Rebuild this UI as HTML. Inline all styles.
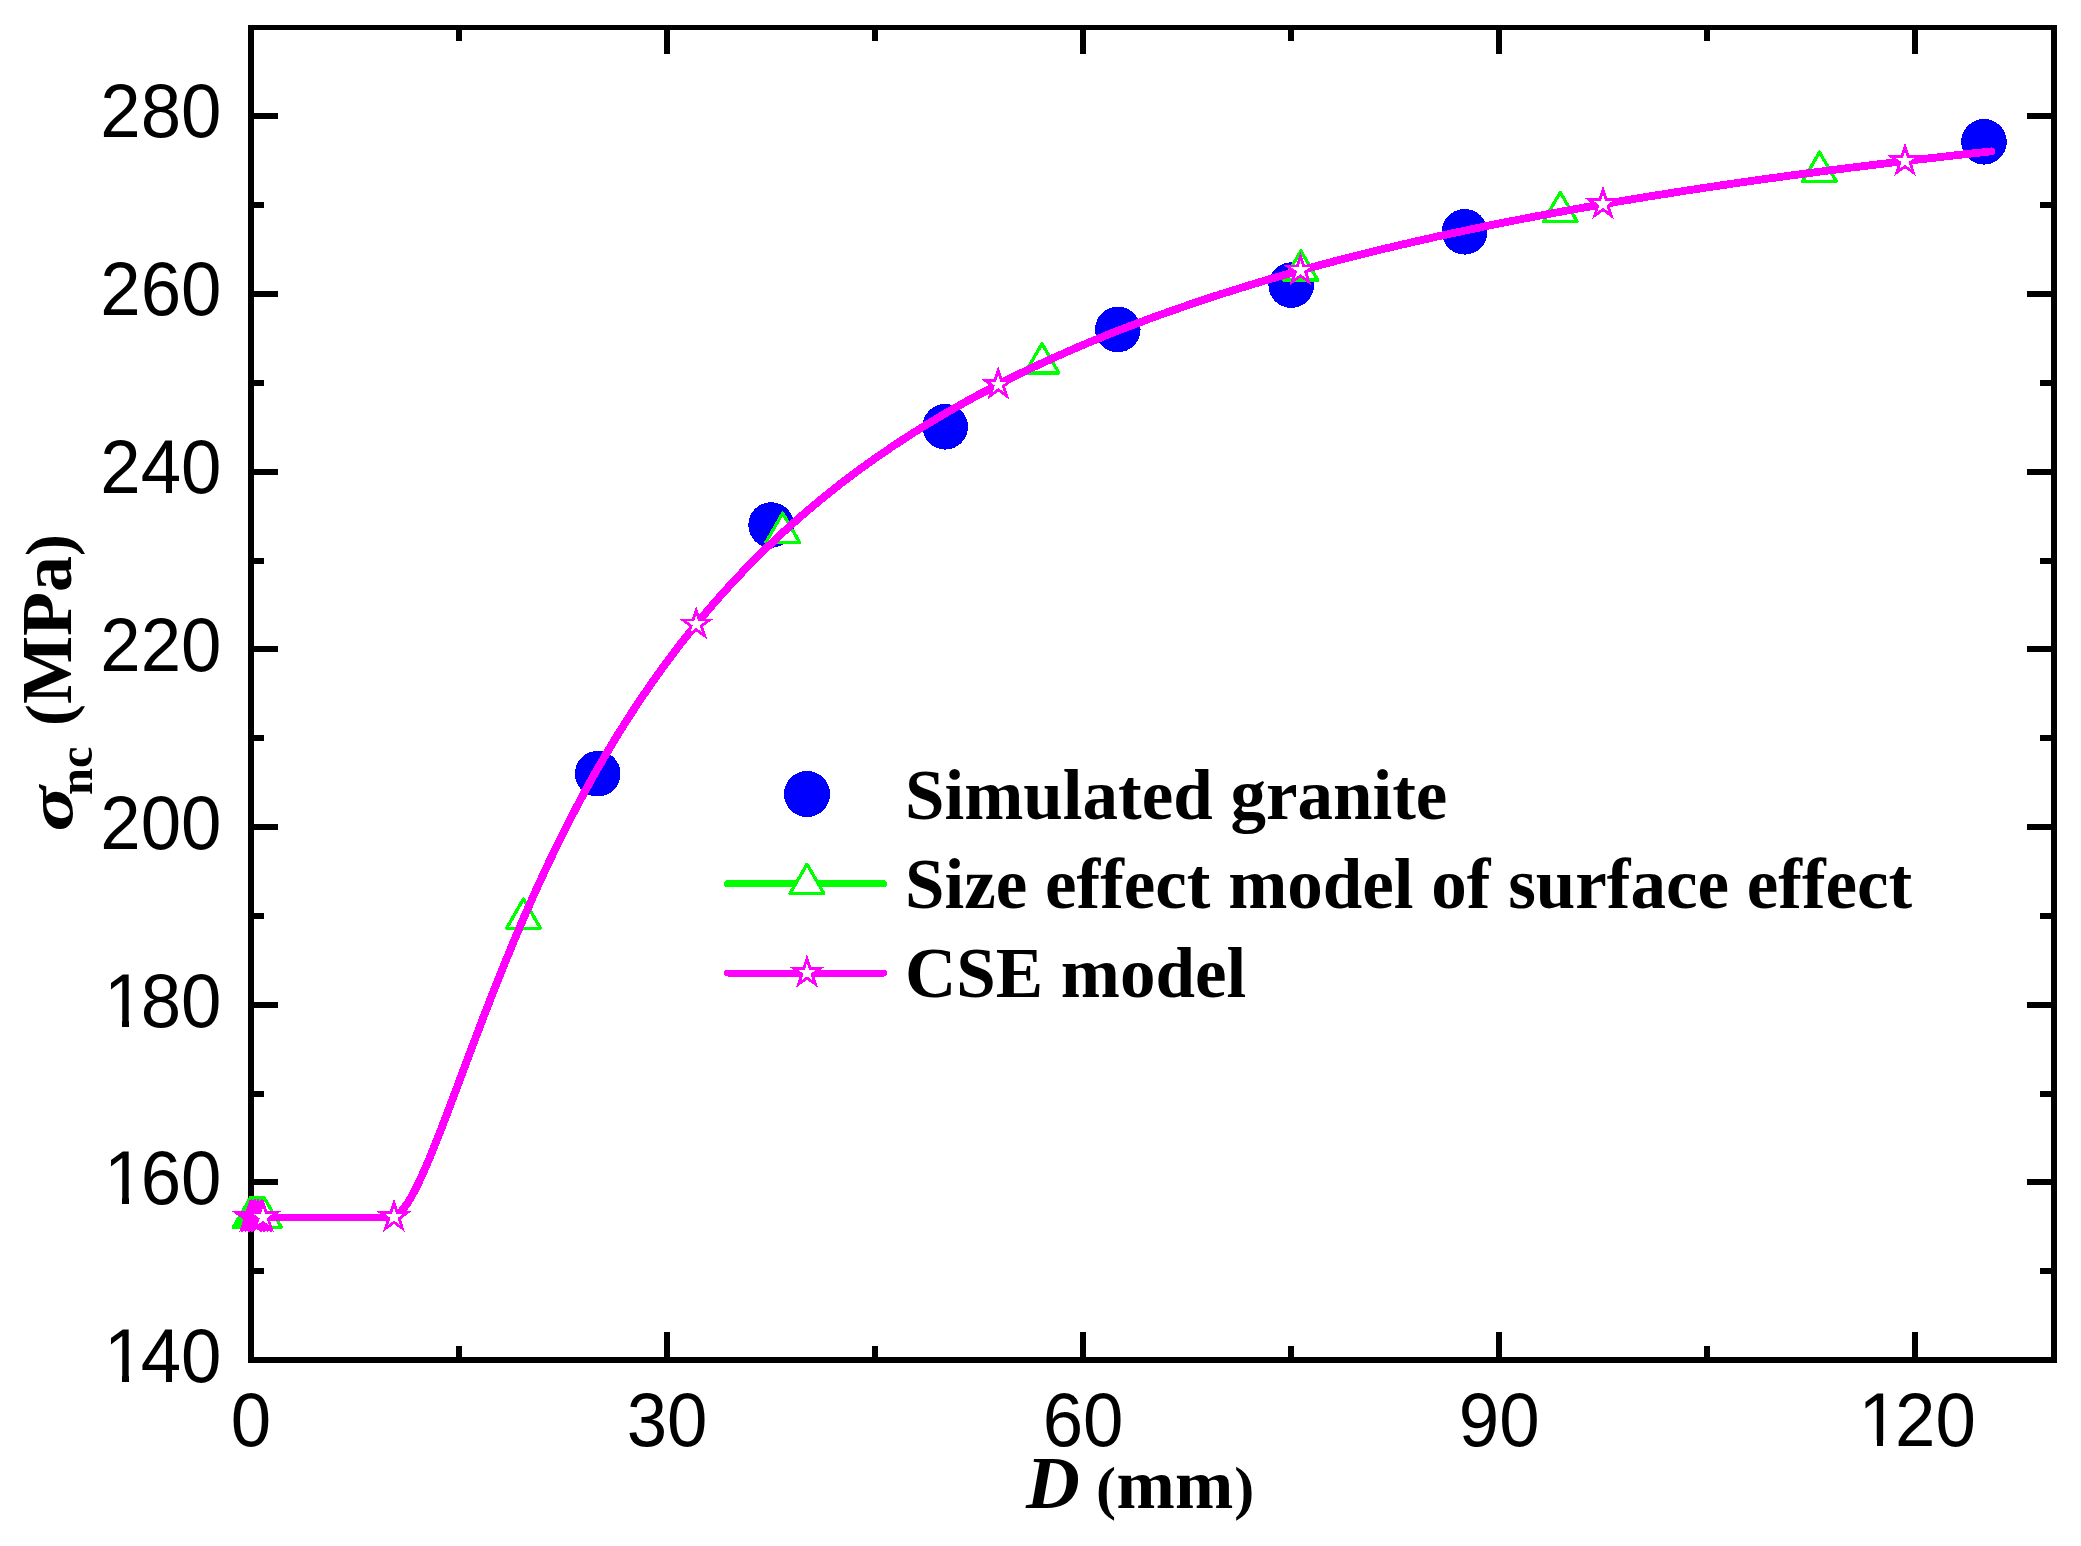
<!DOCTYPE html>
<html lang="en"><head><meta charset="utf-8"><title>Size effect chart</title>
<style>html,body{margin:0;padding:0;background:#fff}svg{display:block}.tk{font-family:"Liberation Sans",Arial,sans-serif;font-size:72.6px;fill:#000}.ti{font-family:"Liberation Serif","Times New Roman",serif;font-weight:bold;font-size:71px;fill:#000}</style></head><body>
<svg width="2081" height="1546" viewBox="0 0 2081 1546">
<rect x="0" y="0" width="2081" height="1546" fill="#fff"/>
<g fill="#000" shape-rendering="crispEdges">
<rect x="248" y="25" width="6" height="1338"/>
<rect x="2051" y="25" width="6" height="1338"/>
<rect x="248" y="25" width="1809" height="5"/>
<rect x="248" y="1357" width="1809" height="6"/>
<rect x="254" y="1268.2" width="10" height="6"/>
<rect x="2040" y="1268.2" width="11" height="6"/>
<rect x="254" y="1179.3" width="24" height="6"/>
<rect x="2027" y="1179.3" width="24" height="6"/>
<rect x="254" y="1090.5" width="10" height="6"/>
<rect x="2040" y="1090.5" width="11" height="6"/>
<rect x="254" y="1001.7" width="24" height="6"/>
<rect x="2027" y="1001.7" width="24" height="6"/>
<rect x="254" y="912.8" width="10" height="6"/>
<rect x="2040" y="912.8" width="11" height="6"/>
<rect x="254" y="824.0" width="24" height="6"/>
<rect x="2027" y="824.0" width="24" height="6"/>
<rect x="254" y="735.2" width="10" height="6"/>
<rect x="2040" y="735.2" width="11" height="6"/>
<rect x="254" y="646.3" width="24" height="6"/>
<rect x="2027" y="646.3" width="24" height="6"/>
<rect x="254" y="557.5" width="10" height="6"/>
<rect x="2040" y="557.5" width="11" height="6"/>
<rect x="254" y="468.7" width="24" height="6"/>
<rect x="2027" y="468.7" width="24" height="6"/>
<rect x="254" y="379.8" width="10" height="6"/>
<rect x="2040" y="379.8" width="11" height="6"/>
<rect x="254" y="291.0" width="24" height="6"/>
<rect x="2027" y="291.0" width="24" height="6"/>
<rect x="254" y="202.2" width="10" height="6"/>
<rect x="2040" y="202.2" width="11" height="6"/>
<rect x="254" y="113.3" width="24" height="6"/>
<rect x="2027" y="113.3" width="24" height="6"/>
<rect x="456.0" y="30" width="6" height="10.5"/>
<rect x="456.0" y="1346" width="6" height="11"/>
<rect x="664.1" y="30" width="6" height="24"/>
<rect x="664.1" y="1332" width="6" height="25"/>
<rect x="872.1" y="30" width="6" height="10.5"/>
<rect x="872.1" y="1346" width="6" height="11"/>
<rect x="1080.2" y="30" width="6" height="24"/>
<rect x="1080.2" y="1332" width="6" height="25"/>
<rect x="1288.2" y="30" width="6" height="10.5"/>
<rect x="1288.2" y="1346" width="6" height="11"/>
<rect x="1496.2" y="30" width="6" height="24"/>
<rect x="1496.2" y="1332" width="6" height="25"/>
<rect x="1704.3" y="30" width="6" height="10.5"/>
<rect x="1704.3" y="1346" width="6" height="11"/>
<rect x="1912.3" y="30" width="6" height="24"/>
<rect x="1912.3" y="1332" width="6" height="25"/>
</g>
<text class="tk" transform="translate(100.27,1382.1) scale(1,1.04)"><tspan dx="3.8">1</tspan><tspan dx="-3.8">40</tspan></text>
<text class="tk" transform="translate(100.27,1204.3) scale(1,1.04)"><tspan dx="3.8">1</tspan><tspan dx="-3.8">60</tspan></text>
<text class="tk" transform="translate(100.27,1026.5) scale(1,1.04)"><tspan dx="3.8">1</tspan><tspan dx="-3.8">80</tspan></text>
<text class="tk" transform="translate(221.4,848.7) scale(1,1.04)" text-anchor="end">200</text>
<text class="tk" transform="translate(221.4,670.9) scale(1,1.04)" text-anchor="end">220</text>
<text class="tk" transform="translate(221.4,493.1) scale(1,1.04)" text-anchor="end">240</text>
<text class="tk" transform="translate(221.4,315.2) scale(1,1.04)" text-anchor="end">260</text>
<text class="tk" transform="translate(221.4,137.4) scale(1,1.04)" text-anchor="end">280</text>
<text class="tk" transform="translate(271.2,1446.1) scale(1,1.04)" text-anchor="end">0</text>
<text class="tk" transform="translate(707.5,1446.1) scale(1,1.04)" text-anchor="end">30</text>
<text class="tk" transform="translate(1123.5,1446.1) scale(1,1.04)" text-anchor="end">60</text>
<text class="tk" transform="translate(1539.6,1446.1) scale(1,1.04)" text-anchor="end">90</text>
<text class="tk" transform="translate(1854.74,1446.1) scale(1,1.04)"><tspan dx="3.8">1</tspan><tspan dx="-3.8">20</tspan></text>
<g fill="#fff" shape-rendering="crispEdges"><rect x="108.40" y="1375.56" width="13.73" height="7.54"/><rect x="128.94" y="1375.56" width="12.96" height="7.54"/><rect x="108.40" y="1197.75" width="13.73" height="7.54"/><rect x="128.94" y="1197.75" width="12.96" height="7.54"/><rect x="108.40" y="1019.94" width="13.73" height="7.54"/><rect x="128.94" y="1019.94" width="12.96" height="7.54"/><rect x="1862.87" y="1439.56" width="13.73" height="7.54"/><rect x="1883.42" y="1439.56" width="12.96" height="7.54"/></g>
<text class="ti" x="1026" y="1507.8" style="font-size:70px"><tspan style="font-size:74.5px;font-style:italic">D</tspan> <tspan style="font-size:60px" dx="-1.2">(</tspan><tspan dx="0.5">mm</tspan><tspan style="font-size:60px" dx="1">)</tspan></text>
<text class="ti" transform="translate(72,831.5) rotate(-90) scale(1.19,0.88)" font-style="italic">σ</text>
<text class="ti" transform="translate(92.3,795) rotate(-90)" style="font-size:48.5px">nc</text>
<text class="ti" transform="translate(71,726) rotate(-90)" style="font-size:72px"><tspan style="font-size:66px">(</tspan>MPa<tspan style="font-size:66px">)</tspan></text>
<g shape-rendering="crispEdges">
<g fill="#0000ff">
<circle cx="597.7" cy="773.7" r="22.8"/>
<circle cx="771.1" cy="525.0" r="22.8"/>
<circle cx="945.2" cy="426.8" r="22.8"/>
<circle cx="1117.8" cy="329.5" r="22.8"/>
<circle cx="1291.2" cy="285.1" r="22.8"/>
<circle cx="1464.6" cy="231.8" r="22.8"/>
<circle cx="1984.0" cy="141.8" r="22.8"/>
</g>
<path d="M251.0,1217.5 L390.8,1217.5" fill="none" stroke="#00ff00" stroke-width="7" stroke-linecap="round"/>
<path d="M390.8,1217.5 L394.2,1216.8 L397.7,1214.7 L401.2,1211.5 L404.6,1207.2 L408.1,1202.2 L411.6,1196.4 L415.0,1189.9 L418.5,1182.9 L422.0,1175.5 L425.4,1167.7 L428.9,1159.6 L432.4,1151.2 L435.8,1142.6 L439.3,1133.8 L442.8,1124.8 L446.3,1115.8 L449.7,1106.6 L453.2,1097.4 L456.7,1088.2 L460.1,1078.9 L463.6,1069.6 L467.1,1060.4 L470.5,1051.2 L474.0,1042.0 L477.5,1032.8 L480.9,1023.7 L484.4,1014.7 L487.9,1005.7 L491.3,996.9 L494.8,988.0 L498.3,979.3 L501.7,970.7 L505.2,962.1 L508.7,953.7 L512.1,945.3 L515.6,937.0 L519.1,928.8 L522.5,920.7 L526.0,912.7 L529.5,904.8 L532.9,897.0 L536.4,889.3 L539.9,881.7 L543.3,874.2 L546.8,866.8 L550.3,859.5 L553.7,852.3 L557.2,845.1 L560.7,838.1 L564.1,831.2 L567.6,824.3 L571.1,817.5 L574.5,810.9 L578.0,804.3 L581.5,797.8 L584.9,791.4 L588.4,785.1 L591.9,778.8 L595.3,772.6 L598.8,766.6 L602.3,760.6 L605.7,754.6 L609.2,748.8 L612.7,743.0 L616.1,737.3 L619.6,731.7 L623.1,726.2 L626.6,720.7 L630.0,715.3 L633.5,710.0 L637.0,704.7 L640.4,699.5 L643.9,694.4 L647.4,689.3 L650.8,684.3 L654.3,679.4 L657.8,674.5 L661.2,669.7 L664.7,664.9 L668.2,660.2 L671.6,655.6 L675.1,651.0 L678.6,646.5 L682.0,642.0 L685.5,637.6 L689.0,633.2 L692.4,628.9 L695.9,624.6 L699.4,620.4 L702.8,616.3 L706.3,612.2 L709.8,608.1 L713.2,604.1 L716.7,600.1 L720.2,596.2 L723.6,592.3 L727.1,588.5 L730.6,584.7 L734.0,581.0 L737.5,577.3 L741.0,573.6 L744.4,570.0 L747.9,566.4 L751.4,562.9 L754.8,559.4 L758.3,555.9 L761.8,552.5 L765.2,549.1 L768.7,545.8 L772.2,542.5 L775.6,539.2 L779.1,536.0 L782.6,532.8 L786.0,529.6 L789.5,526.5 L793.0,523.4 L796.4,520.3 L799.9,517.2 L803.4,514.2 L806.9,511.3 L810.3,508.3 L813.8,505.4 L817.3,502.5 L820.7,499.7 L824.2,496.8 L827.7,494.0 L831.1,491.3 L834.6,488.5 L838.1,485.8 L841.5,483.1 L845.0,480.5 L848.5,477.8 L851.9,475.2 L855.4,472.6 L858.9,470.1 L862.3,467.5 L865.8,465.0 L869.3,462.5 L872.7,460.1 L876.2,457.6 L879.7,455.2 L883.1,452.8 L886.6,450.5 L890.1,448.1 L893.5,445.8 L897.0,443.5 L900.5,441.2 L903.9,438.9 L907.4,436.7 L910.9,434.5 L914.3,432.3 L917.8,430.1 L921.3,427.9 L924.7,425.8 L928.2,423.7 L931.7,421.6 L935.1,419.5 L938.6,417.4 L942.1,415.4 L945.5,413.3 L949.0,411.3 L952.5,409.3 L955.9,407.3 L959.4,405.4 L962.9,403.4 L966.3,401.5 L969.8,399.6 L973.3,397.7 L976.7,395.8 L980.2,393.9 L983.7,392.1 L987.2,390.3 L990.6,388.4 L994.1,386.6 L997.6,384.9 L1001.0,383.1 L1004.5,381.3 L1008.0,379.6 L1011.4,377.8 L1014.9,376.1 L1018.4,374.4 L1021.8,372.7 L1025.3,371.1 L1028.8,369.4 L1032.2,367.7 L1035.7,366.1 L1039.2,364.5 L1042.6,362.9 L1046.1,361.3 L1049.6,359.7 L1053.0,358.1 L1056.5,356.5 L1060.0,355.0 L1063.4,353.5 L1066.9,351.9 L1070.4,350.4 L1073.8,348.9 L1077.3,347.4 L1080.8,345.9 L1084.2,344.5 L1087.7,343.0 L1091.2,341.6 L1094.6,340.1 L1098.1,338.7 L1101.6,337.3 L1105.0,335.9 L1108.5,334.5 L1112.0,333.1 L1115.4,331.7 L1118.9,330.3 L1122.4,329.0 L1125.8,327.6 L1129.3,326.3 L1132.8,325.0 L1136.2,323.7 L1139.7,322.4 L1143.2,321.1 L1146.6,319.8 L1150.1,318.5 L1153.6,317.2 L1157.0,316.0 L1160.5,314.7 L1164.0,313.5 L1167.5,312.2 L1170.9,311.0 L1174.4,309.8 L1177.9,308.6 L1181.3,307.4 L1184.8,306.2 L1188.3,305.0 L1191.7,303.8 L1195.2,302.6 L1198.7,301.5 L1202.1,300.3 L1205.6,299.2 L1209.1,298.0 L1212.5,296.9 L1216.0,295.8 L1219.5,294.6 L1222.9,293.5 L1226.4,292.4 L1229.9,291.3 L1233.3,290.2 L1236.8,289.2 L1240.3,288.1 L1243.7,287.0 L1247.2,285.9 L1250.7,284.9 L1254.1,283.8 L1257.6,282.8 L1261.1,281.8 L1264.5,280.7 L1268.0,279.7 L1271.5,278.7 L1274.9,277.7 L1278.4,276.7 L1281.9,275.7 L1285.3,274.7 L1288.8,273.7 L1292.3,272.7 L1295.7,271.8 L1299.2,270.8 L1302.7,269.8 L1306.1,268.9 L1309.6,267.9 L1313.1,267.0 L1316.5,266.0 L1320.0,265.1 L1323.5,264.2 L1326.9,263.3 L1330.4,262.4 L1333.9,261.4 L1337.3,260.5 L1340.8,259.6 L1344.3,258.7 L1347.8,257.9 L1351.2,257.0 L1354.7,256.1 L1358.2,255.2 L1361.6,254.4 L1365.1,253.5 L1368.6,252.6 L1372.0,251.8 L1375.5,250.9 L1379.0,250.1 L1382.4,249.2 L1385.9,248.4 L1389.4,247.6 L1392.8,246.8 L1396.3,245.9 L1399.8,245.1 L1403.2,244.3 L1406.7,243.5 L1410.2,242.7 L1413.6,241.9 L1417.1,241.1 L1420.6,240.3 L1424.0,239.5 L1427.5,238.8 L1431.0,238.0 L1434.4,237.2 L1437.9,236.4 L1441.4,235.7 L1444.8,234.9 L1448.3,234.2 L1451.8,233.4 L1455.2,232.7 L1458.7,231.9 L1462.2,231.2 L1465.6,230.5 L1469.1,229.7 L1472.6,229.0 L1476.0,228.3 L1479.5,227.6 L1483.0,226.8 L1486.4,226.1 L1489.9,225.4 L1493.4,224.7 L1496.8,224.0 L1500.3,223.3 L1503.8,222.6 L1507.2,221.9 L1510.7,221.2 L1514.2,220.6 L1517.6,219.9 L1521.1,219.2 L1524.6,218.5 L1528.1,217.9 L1531.5,217.2 L1535.0,216.5 L1538.5,215.9 L1541.9,215.2 L1545.4,214.6 L1548.9,213.9 L1552.3,213.3 L1555.8,212.6 L1559.3,212.0 L1562.7,211.4 L1566.2,210.7 L1569.7,210.1 L1573.1,209.5 L1576.6,208.9 L1580.1,208.2 L1583.5,207.6 L1587.0,207.0 L1590.5,206.4 L1593.9,205.8 L1597.4,205.2 L1600.9,204.6 L1604.3,204.0 L1607.8,203.4 L1611.3,202.8 L1614.7,202.2 L1618.2,201.6 L1621.7,201.0 L1625.1,200.4 L1628.6,199.9 L1632.1,199.3 L1635.5,198.7 L1639.0,198.1 L1642.5,197.6 L1645.9,197.0 L1649.4,196.4 L1652.9,195.9 L1656.3,195.3 L1659.8,194.8 L1663.3,194.2 L1666.7,193.7 L1670.2,193.1 L1673.7,192.6 L1677.1,192.0 L1680.6,191.5 L1684.1,190.9 L1687.5,190.4 L1691.0,189.9 L1694.5,189.3 L1697.9,188.8 L1701.4,188.3 L1704.9,187.8 L1708.4,187.2 L1711.8,186.7 L1715.3,186.2 L1718.8,185.7 L1722.2,185.2 L1725.7,184.7 L1729.2,184.2 L1732.6,183.7 L1736.1,183.2 L1739.6,182.7 L1743.0,182.2 L1746.5,181.7 L1750.0,181.2 L1753.4,180.7 L1756.9,180.2 L1760.4,179.7 L1763.8,179.2 L1767.3,178.7 L1770.8,178.2 L1774.2,177.8 L1777.7,177.3 L1781.2,176.8 L1784.6,176.3 L1788.1,175.9 L1791.6,175.4 L1795.0,174.9 L1798.5,174.5 L1802.0,174.0 L1805.4,173.5 L1808.9,173.1 L1812.4,172.6 L1815.8,172.2 L1819.3,171.7 L1822.8,171.3 L1826.2,170.8 L1829.7,170.4 L1833.2,169.9 L1836.6,169.5 L1840.1,169.0 L1843.6,168.6 L1847.0,168.2 L1850.5,167.7 L1854.0,167.3 L1857.4,166.9 L1860.9,166.4 L1864.4,166.0 L1867.8,165.6 L1871.3,165.1 L1874.8,164.7 L1878.2,164.3 L1881.7,163.9 L1885.2,163.5 L1888.7,163.0 L1892.1,162.6 L1895.6,162.2 L1899.1,161.8 L1902.5,161.4 L1906.0,161.0 L1909.5,160.6 L1912.9,160.2 L1916.4,159.8 L1919.9,159.4 L1923.3,158.9 L1926.8,158.6 L1930.3,158.2 L1933.7,157.8 L1937.2,157.4 L1940.7,157.0 L1944.1,156.6 L1947.6,156.2 L1951.1,155.8 L1954.5,155.4 L1958.0,155.0 L1961.5,154.6 L1964.9,154.3 L1968.4,153.9 L1971.9,153.5 L1975.3,153.1 L1978.8,152.7 L1982.3,152.4 L1985.7,152.0 L1989.2,151.6 L1991.4,151.4" fill="none" stroke="#00ff00" stroke-width="7.6" stroke-linecap="round" stroke-linejoin="round"/>
<g fill="#fff" stroke="#00ff00" stroke-width="3.3" stroke-linejoin="round">
<path d="M250.2,1198.0 L267.1,1227.2 L233.3,1227.2Z"/>
<path d="M251.6,1198.0 L268.5,1227.2 L234.7,1227.2Z"/>
<path d="M253.0,1198.0 L269.9,1227.2 L236.1,1227.2Z"/>
<path d="M254.4,1198.0 L271.3,1227.2 L237.5,1227.2Z"/>
<path d="M255.8,1198.0 L272.7,1227.2 L239.0,1227.2Z"/>
<path d="M257.2,1198.0 L274.1,1227.2 L240.4,1227.2Z"/>
<path d="M258.7,1198.0 L275.5,1227.2 L241.8,1227.2Z"/>
<path d="M260.1,1198.0 L277.0,1227.2 L243.2,1227.2Z"/>
<path d="M261.5,1198.0 L278.4,1227.2 L244.6,1227.2Z"/>
<path d="M262.9,1198.0 L279.8,1227.2 L246.0,1227.2Z"/>
<path d="M264.3,1198.0 L281.2,1227.2 L247.4,1227.2Z"/>
<path d="M523.5,898.9 L540.4,928.2 L506.6,928.2Z"/>
<path d="M782.7,513.1 L799.6,542.4 L765.9,542.4Z"/>
<path d="M1042.0,343.7 L1058.8,372.9 L1025.1,372.9Z"/>
<path d="M1300.9,250.8 L1317.8,280.1 L1284.0,280.1Z"/>
<path d="M1560.3,192.3 L1577.1,221.6 L1543.4,221.6Z"/>
<path d="M1819.5,152.2 L1836.4,181.4 L1802.6,181.4Z"/>
</g>
<path d="M251.0,1217.5 L390.8,1217.5" fill="none" stroke="#ff00ff" stroke-width="7" stroke-linecap="round"/>
<path d="M390.8,1217.5 L394.2,1216.8 L397.7,1214.7 L401.2,1211.5 L404.6,1207.2 L408.1,1202.2 L411.6,1196.4 L415.0,1189.9 L418.5,1182.9 L422.0,1175.5 L425.4,1167.7 L428.9,1159.6 L432.4,1151.2 L435.8,1142.6 L439.3,1133.8 L442.8,1124.8 L446.3,1115.8 L449.7,1106.6 L453.2,1097.4 L456.7,1088.2 L460.1,1078.9 L463.6,1069.6 L467.1,1060.4 L470.5,1051.2 L474.0,1042.0 L477.5,1032.8 L480.9,1023.7 L484.4,1014.7 L487.9,1005.7 L491.3,996.9 L494.8,988.0 L498.3,979.3 L501.7,970.7 L505.2,962.1 L508.7,953.7 L512.1,945.3 L515.6,937.0 L519.1,928.8 L522.5,920.7 L526.0,912.7 L529.5,904.8 L532.9,897.0 L536.4,889.3 L539.9,881.7 L543.3,874.2 L546.8,866.8 L550.3,859.5 L553.7,852.3 L557.2,845.1 L560.7,838.1 L564.1,831.2 L567.6,824.3 L571.1,817.5 L574.5,810.9 L578.0,804.3 L581.5,797.8 L584.9,791.4 L588.4,785.1 L591.9,778.8 L595.3,772.6 L598.8,766.6 L602.3,760.6 L605.7,754.6 L609.2,748.8 L612.7,743.0 L616.1,737.3 L619.6,731.7 L623.1,726.2 L626.6,720.7 L630.0,715.3 L633.5,710.0 L637.0,704.7 L640.4,699.5 L643.9,694.4 L647.4,689.3 L650.8,684.3 L654.3,679.4 L657.8,674.5 L661.2,669.7 L664.7,664.9 L668.2,660.2 L671.6,655.6 L675.1,651.0 L678.6,646.5 L682.0,642.0 L685.5,637.6 L689.0,633.2 L692.4,628.9 L695.9,624.6 L699.4,620.4 L702.8,616.3 L706.3,612.2 L709.8,608.1 L713.2,604.1 L716.7,600.1 L720.2,596.2 L723.6,592.3 L727.1,588.5 L730.6,584.7 L734.0,581.0 L737.5,577.3 L741.0,573.6 L744.4,570.0 L747.9,566.4 L751.4,562.9 L754.8,559.4 L758.3,555.9 L761.8,552.5 L765.2,549.1 L768.7,545.8 L772.2,542.5 L775.6,539.2 L779.1,536.0 L782.6,532.8 L786.0,529.6 L789.5,526.5 L793.0,523.4 L796.4,520.3 L799.9,517.2 L803.4,514.2 L806.9,511.3 L810.3,508.3 L813.8,505.4 L817.3,502.5 L820.7,499.7 L824.2,496.8 L827.7,494.0 L831.1,491.3 L834.6,488.5 L838.1,485.8 L841.5,483.1 L845.0,480.5 L848.5,477.8 L851.9,475.2 L855.4,472.6 L858.9,470.1 L862.3,467.5 L865.8,465.0 L869.3,462.5 L872.7,460.1 L876.2,457.6 L879.7,455.2 L883.1,452.8 L886.6,450.5 L890.1,448.1 L893.5,445.8 L897.0,443.5 L900.5,441.2 L903.9,438.9 L907.4,436.7 L910.9,434.5 L914.3,432.3 L917.8,430.1 L921.3,427.9 L924.7,425.8 L928.2,423.7 L931.7,421.6 L935.1,419.5 L938.6,417.4 L942.1,415.4 L945.5,413.3 L949.0,411.3 L952.5,409.3 L955.9,407.3 L959.4,405.4 L962.9,403.4 L966.3,401.5 L969.8,399.6 L973.3,397.7 L976.7,395.8 L980.2,393.9 L983.7,392.1 L987.2,390.3 L990.6,388.4 L994.1,386.6 L997.6,384.9 L1001.0,383.1 L1004.5,381.3 L1008.0,379.6 L1011.4,377.8 L1014.9,376.1 L1018.4,374.4 L1021.8,372.7 L1025.3,371.1 L1028.8,369.4 L1032.2,367.7 L1035.7,366.1 L1039.2,364.5 L1042.6,362.9 L1046.1,361.3 L1049.6,359.7 L1053.0,358.1 L1056.5,356.5 L1060.0,355.0 L1063.4,353.5 L1066.9,351.9 L1070.4,350.4 L1073.8,348.9 L1077.3,347.4 L1080.8,345.9 L1084.2,344.5 L1087.7,343.0 L1091.2,341.6 L1094.6,340.1 L1098.1,338.7 L1101.6,337.3 L1105.0,335.9 L1108.5,334.5 L1112.0,333.1 L1115.4,331.7 L1118.9,330.3 L1122.4,329.0 L1125.8,327.6 L1129.3,326.3 L1132.8,325.0 L1136.2,323.7 L1139.7,322.4 L1143.2,321.1 L1146.6,319.8 L1150.1,318.5 L1153.6,317.2 L1157.0,316.0 L1160.5,314.7 L1164.0,313.5 L1167.5,312.2 L1170.9,311.0 L1174.4,309.8 L1177.9,308.6 L1181.3,307.4 L1184.8,306.2 L1188.3,305.0 L1191.7,303.8 L1195.2,302.6 L1198.7,301.5 L1202.1,300.3 L1205.6,299.2 L1209.1,298.0 L1212.5,296.9 L1216.0,295.8 L1219.5,294.6 L1222.9,293.5 L1226.4,292.4 L1229.9,291.3 L1233.3,290.2 L1236.8,289.2 L1240.3,288.1 L1243.7,287.0 L1247.2,285.9 L1250.7,284.9 L1254.1,283.8 L1257.6,282.8 L1261.1,281.8 L1264.5,280.7 L1268.0,279.7 L1271.5,278.7 L1274.9,277.7 L1278.4,276.7 L1281.9,275.7 L1285.3,274.7 L1288.8,273.7 L1292.3,272.7 L1295.7,271.8 L1299.2,270.8 L1302.7,269.8 L1306.1,268.9 L1309.6,267.9 L1313.1,267.0 L1316.5,266.0 L1320.0,265.1 L1323.5,264.2 L1326.9,263.3 L1330.4,262.4 L1333.9,261.4 L1337.3,260.5 L1340.8,259.6 L1344.3,258.7 L1347.8,257.9 L1351.2,257.0 L1354.7,256.1 L1358.2,255.2 L1361.6,254.4 L1365.1,253.5 L1368.6,252.6 L1372.0,251.8 L1375.5,250.9 L1379.0,250.1 L1382.4,249.2 L1385.9,248.4 L1389.4,247.6 L1392.8,246.8 L1396.3,245.9 L1399.8,245.1 L1403.2,244.3 L1406.7,243.5 L1410.2,242.7 L1413.6,241.9 L1417.1,241.1 L1420.6,240.3 L1424.0,239.5 L1427.5,238.8 L1431.0,238.0 L1434.4,237.2 L1437.9,236.4 L1441.4,235.7 L1444.8,234.9 L1448.3,234.2 L1451.8,233.4 L1455.2,232.7 L1458.7,231.9 L1462.2,231.2 L1465.6,230.5 L1469.1,229.7 L1472.6,229.0 L1476.0,228.3 L1479.5,227.6 L1483.0,226.8 L1486.4,226.1 L1489.9,225.4 L1493.4,224.7 L1496.8,224.0 L1500.3,223.3 L1503.8,222.6 L1507.2,221.9 L1510.7,221.2 L1514.2,220.6 L1517.6,219.9 L1521.1,219.2 L1524.6,218.5 L1528.1,217.9 L1531.5,217.2 L1535.0,216.5 L1538.5,215.9 L1541.9,215.2 L1545.4,214.6 L1548.9,213.9 L1552.3,213.3 L1555.8,212.6 L1559.3,212.0 L1562.7,211.4 L1566.2,210.7 L1569.7,210.1 L1573.1,209.5 L1576.6,208.9 L1580.1,208.2 L1583.5,207.6 L1587.0,207.0 L1590.5,206.4 L1593.9,205.8 L1597.4,205.2 L1600.9,204.6 L1604.3,204.0 L1607.8,203.4 L1611.3,202.8 L1614.7,202.2 L1618.2,201.6 L1621.7,201.0 L1625.1,200.4 L1628.6,199.9 L1632.1,199.3 L1635.5,198.7 L1639.0,198.1 L1642.5,197.6 L1645.9,197.0 L1649.4,196.4 L1652.9,195.9 L1656.3,195.3 L1659.8,194.8 L1663.3,194.2 L1666.7,193.7 L1670.2,193.1 L1673.7,192.6 L1677.1,192.0 L1680.6,191.5 L1684.1,190.9 L1687.5,190.4 L1691.0,189.9 L1694.5,189.3 L1697.9,188.8 L1701.4,188.3 L1704.9,187.8 L1708.4,187.2 L1711.8,186.7 L1715.3,186.2 L1718.8,185.7 L1722.2,185.2 L1725.7,184.7 L1729.2,184.2 L1732.6,183.7 L1736.1,183.2 L1739.6,182.7 L1743.0,182.2 L1746.5,181.7 L1750.0,181.2 L1753.4,180.7 L1756.9,180.2 L1760.4,179.7 L1763.8,179.2 L1767.3,178.7 L1770.8,178.2 L1774.2,177.8 L1777.7,177.3 L1781.2,176.8 L1784.6,176.3 L1788.1,175.9 L1791.6,175.4 L1795.0,174.9 L1798.5,174.5 L1802.0,174.0 L1805.4,173.5 L1808.9,173.1 L1812.4,172.6 L1815.8,172.2 L1819.3,171.7 L1822.8,171.3 L1826.2,170.8 L1829.7,170.4 L1833.2,169.9 L1836.6,169.5 L1840.1,169.0 L1843.6,168.6 L1847.0,168.2 L1850.5,167.7 L1854.0,167.3 L1857.4,166.9 L1860.9,166.4 L1864.4,166.0 L1867.8,165.6 L1871.3,165.1 L1874.8,164.7 L1878.2,164.3 L1881.7,163.9 L1885.2,163.5 L1888.7,163.0 L1892.1,162.6 L1895.6,162.2 L1899.1,161.8 L1902.5,161.4 L1906.0,161.0 L1909.5,160.6 L1912.9,160.2 L1916.4,159.8 L1919.9,159.4 L1923.3,158.9 L1926.8,158.6 L1930.3,158.2 L1933.7,157.8 L1937.2,157.4 L1940.7,157.0 L1944.1,156.6 L1947.6,156.2 L1951.1,155.8 L1954.5,155.4 L1958.0,155.0 L1961.5,154.6 L1964.9,154.3 L1968.4,153.9 L1971.9,153.5 L1975.3,153.1 L1978.8,152.7 L1982.3,152.4 L1985.7,152.0 L1989.2,151.6 L1991.4,151.4" fill="none" stroke="#ff00ff" stroke-width="7.8" stroke-linecap="round" stroke-linejoin="round"/>
<g fill="#fff" stroke="#ff00ff" stroke-width="2.8" stroke-linejoin="miter">
<path d="M250.00,1203.10 L253.17,1212.84 L263.41,1212.84 L255.12,1218.86 L258.29,1228.61 L250.00,1222.59 L241.71,1228.61 L244.88,1218.86 L236.59,1212.84 L246.83,1212.84Z"/>
<path d="M251.45,1203.10 L254.62,1212.84 L264.86,1212.84 L256.57,1218.86 L259.74,1228.61 L251.45,1222.59 L243.16,1228.61 L246.33,1218.86 L238.04,1212.84 L248.28,1212.84Z"/>
<path d="M252.90,1203.10 L256.07,1212.84 L266.31,1212.84 L258.02,1218.86 L261.19,1228.61 L252.90,1222.59 L244.61,1228.61 L247.78,1218.86 L239.49,1212.84 L249.73,1212.84Z"/>
<path d="M254.35,1203.10 L257.52,1212.84 L267.76,1212.84 L259.47,1218.86 L262.64,1228.61 L254.35,1222.59 L246.06,1228.61 L249.23,1218.86 L240.94,1212.84 L251.18,1212.84Z"/>
<path d="M255.80,1203.10 L258.97,1212.84 L269.21,1212.84 L260.92,1218.86 L264.09,1228.61 L255.80,1222.59 L247.51,1228.61 L250.68,1218.86 L242.39,1212.84 L252.63,1212.84Z"/>
<path d="M257.25,1203.10 L260.42,1212.84 L270.66,1212.84 L262.37,1218.86 L265.54,1228.61 L257.25,1222.59 L248.96,1228.61 L252.13,1218.86 L243.84,1212.84 L254.08,1212.84Z"/>
<path d="M258.70,1203.10 L261.87,1212.84 L272.11,1212.84 L263.82,1218.86 L266.99,1228.61 L258.70,1222.59 L250.41,1228.61 L253.58,1218.86 L245.29,1212.84 L255.53,1212.84Z"/>
<path d="M260.15,1203.10 L263.32,1212.84 L273.56,1212.84 L265.27,1218.86 L268.44,1228.61 L260.15,1222.59 L251.86,1228.61 L255.03,1218.86 L246.74,1212.84 L256.98,1212.84Z"/>
<path d="M261.60,1203.10 L264.77,1212.84 L275.01,1212.84 L266.72,1218.86 L269.89,1228.61 L261.60,1222.59 L253.31,1228.61 L256.48,1218.86 L248.19,1212.84 L258.43,1212.84Z"/>
<path d="M263.05,1203.10 L266.22,1212.84 L276.46,1212.84 L268.17,1218.86 L271.34,1228.61 L263.05,1222.59 L254.76,1228.61 L257.93,1218.86 L249.64,1212.84 L259.88,1212.84Z"/>
<path d="M393.99,1202.77 L397.16,1212.52 L407.40,1212.52 L399.11,1218.54 L402.28,1228.28 L393.99,1222.26 L385.70,1228.28 L388.87,1218.54 L380.58,1212.52 L390.83,1212.52Z"/>
<path d="M696.20,610.17 L699.37,619.91 L709.61,619.91 L701.32,625.93 L704.49,635.68 L696.20,629.66 L687.91,635.68 L691.08,625.93 L682.79,619.91 L693.04,619.91Z"/>
<path d="M998.27,370.38 L1001.44,380.12 L1011.68,380.12 L1003.40,386.15 L1006.56,395.89 L998.27,389.87 L989.99,395.89 L993.15,386.15 L984.86,380.12 L995.11,380.12Z"/>
<path d="M1300.48,256.34 L1303.65,266.08 L1313.89,266.08 L1305.61,272.11 L1308.77,281.85 L1300.48,275.83 L1292.20,281.85 L1295.36,272.11 L1287.07,266.08 L1297.32,266.08Z"/>
<path d="M1602.97,190.11 L1606.14,199.85 L1616.38,199.85 L1608.10,205.87 L1611.26,215.62 L1602.97,209.59 L1594.68,215.62 L1597.85,205.87 L1589.56,199.85 L1599.81,199.85Z"/>
<path d="M1905.04,146.98 L1908.21,156.73 L1918.45,156.73 L1910.17,162.75 L1913.33,172.49 L1905.04,166.47 L1896.76,172.49 L1899.92,162.75 L1891.63,156.73 L1901.88,156.73Z"/>
</g>
<circle cx="807" cy="794" r="23" fill="#0000ff"/>
<path d="M727.5,883.5 H883.5" stroke="#00ff00" stroke-width="7" stroke-linecap="round" fill="none"/>
<path d="M807.0,864.2 L823.9,893.5 L790.1,893.5Z" fill="#fff" stroke="#00ff00" stroke-width="3.3" stroke-linejoin="round"/>
<path d="M727.5,973 H883.5" stroke="#ff00ff" stroke-width="7" stroke-linecap="round" fill="none"/>
<path d="M807.00,958.50 L810.17,968.24 L820.41,968.24 L812.12,974.26 L815.29,984.01 L807.00,977.99 L798.71,984.01 L801.88,974.26 L793.59,968.24 L803.83,968.24Z" fill="#fff" stroke="#ff00ff" stroke-width="2.8"/>
<text class="ti" x="905" y="819.3">Simulated granite</text>
<text class="ti" x="905" y="908">Size effect model of surface effect</text>
<text class="ti" x="905" y="996.6">CSE model</text>
</g>
</svg></body></html>
